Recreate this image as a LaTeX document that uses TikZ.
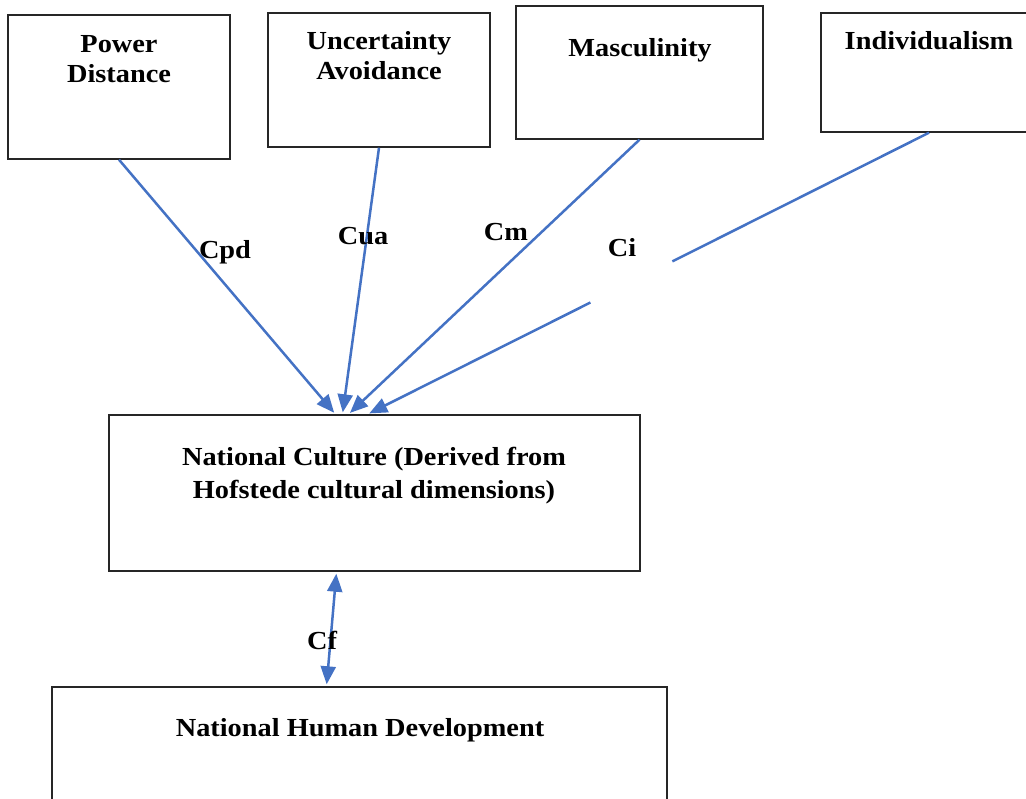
\documentclass[tikz,border=0pt]{standalone}
\usepackage{fontspec}
\setmainfont[FakeStretch=1.09]{Liberation Serif}
\usetikzlibrary{arrows.meta,calc}
\definecolor{linkblue}{HTML}{4472C4}

\begin{document}
\begin{tikzpicture}[x=1pt,y=-1pt,
        box/.style={draw=black!85, line width=1.4pt, rectangle, inner sep=0pt},
        txt/.style={font=\bfseries\fontsize{26}{30}\selectfont, align=center},
        conn/.style={draw=linkblue, line width=2.5pt, shorten >=2pt, -{Triangle[length=18pt,width=15pt]}},
        tag/.style={font=\bfseries\fontsize{26}{30}\selectfont}]

        \clip (0,0) rectangle (1026,799);

        \node[box, minimum width=222pt, minimum height=144pt] (pd) at (119,87) {};
        \node[box, minimum width=222pt, minimum height=134pt] (ua) at (379,80) {};
        \node[box, minimum width=247pt, minimum height=133pt] (mas) at (639.5,72.5) {};
        \node[box, minimum width=216pt, minimum height=119pt] (ind) at (929,72.5) {};
        \node[box, minimum width=531pt, minimum height=156pt] (nc) at (374.5,493) {};
        \node[box, minimum width=615pt, minimum height=125pt] (nhd) at (359.5,749.5) {};

        \node[txt] (pdtext) at (119,59) {Power\\Distance};
        \node[txt] (uatext) at (379,56) {Uncertainty\\Avoidance};
        \node[txt] (mastext) at (640,50) {Masculinity};
        \node[txt] (indtext) at (929,41) {Individualism};
        \node[txt] (nctext) at (374,476) {National Culture (Derived from\\[3pt]Hofstede cultural dimensions)};
        \node[txt] (nhdtext) at (360,730) {National Human Development};

        % links into national culture
        \draw[conn] (pd.south) -- ([xshift=-39pt]nc.north);
        \draw[conn] (ua.south) -- ([xshift=-32pt]nc.north);
        \draw[conn] (mas.south) -- ([xshift=-26pt]nc.north);
        \coordinate (ciend) at ([xshift=-7pt]nc.north);
        \coordinate (cigapa) at ($(ind.south)!0.457!(ciend)$);
        \coordinate (cigapb) at ($(ind.south)!0.603!(ciend)$);
        \draw[draw=linkblue, line width=2.5pt] (ind.south) -- (cigapa);
        \draw[conn] (cigapb) -- (ciend);
        \draw[conn, shorten <=2pt, {Triangle[length=18pt,width=15pt]}-{Triangle[length=18pt,width=15pt]}]
            ([xshift=-38pt]nc.south) -- ([xshift=-33pt]nhd.north);

        \node[tag] (cpd) at (225,252) {Cpd};
        \node[tag] (cua) at (363,236) {Cua};
        \node[tag] (cm) at (506,232) {Cm};
        \node[tag] (ci) at (622,248) {Ci};
        \node[tag] (cf) at (322,640) {Cf};

\end{tikzpicture}
\end{document}
